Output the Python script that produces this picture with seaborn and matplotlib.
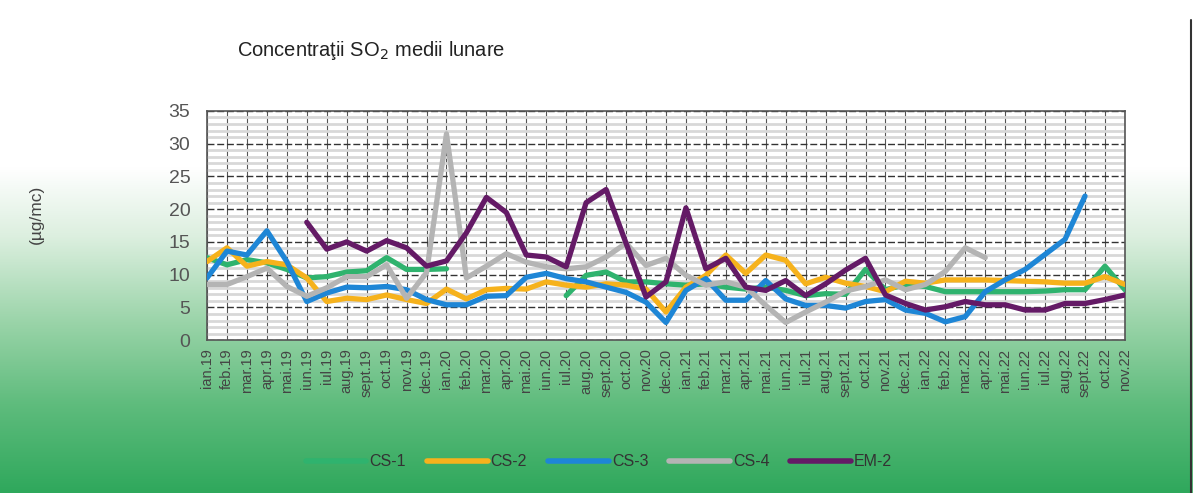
import numpy as np
import pandas as pd
import matplotlib
matplotlib.use('Agg')
import matplotlib.pyplot as plt
from matplotlib.colors import LinearSegmentedColormap
from matplotlib.ticker import MultipleLocator
import seaborn as sns

nan = np.nan

labels = ['ian.19', 'feb.19', 'mar.19', 'apr.19', 'mai.19', 'iun.19', 'iul.19', 'aug.19', 'sept.19', 'oct.19', 'nov.19', 'dec.19',
          'ian.20', 'feb.20', 'mar.20', 'apr.20', 'mai.20', 'iun.20', 'iul.20', 'aug.20', 'sept.20', 'oct.20', 'nov.20', 'dec.20',
          'ian.21', 'feb.21', 'mar.21', 'apr.21', 'mai.21', 'iun.21', 'iul.21', 'aug.21', 'sept.21', 'oct.21', 'nov.21', 'dec.21',
          'ian.22', 'feb.22', 'mar.22', 'apr.22', 'mai.22', 'iun.22', 'iul.22', 'aug.22', 'sept.22', 'oct.22', 'nov.22']

cs1 = [12.6, 11.5, 12.3, 11.8, 10.8, 9.5, 9.7, 10.4, 10.6, 12.6, 10.8, 10.8,
       10.9, nan, nan, nan, nan, nan, 6.8, 9.9, 10.4, 8.9, 8.9, 8.6,
       8.4, 8.6, 8.1, 7.8, 8.1, 7.6, 6.8, 7.1, 7.0, 10.8, 7.7, 8.5,
       8.2, 7.4, 7.4, 7.4, 7.4, 7.4, 7.5, 7.7, 7.7, 11.3, 7.7]
cs2 = [12.0, 14.1, 11.3, 12.0, 11.5, 9.5, 5.9, 6.4, 6.2, 6.9, 6.2, 5.6,
       7.8, 6.3, 7.7, 7.9, 7.8, 8.9, 8.4, 8.1, 8.6, 8.4, 7.8, 4.3,
       8.1, 9.9, 13.0, 10.2, 13.0, 12.2, 8.6, 9.6, 8.7, 8.2, 7.4, 9.0,
       8.7, 9.2, 9.2, 9.2, 9.1, 9.0, 8.9, 8.7, 8.7, 9.7, 8.5]
cs3 = [9.5, 13.6, 13.0, 16.7, 12.0, 5.9, 7.2, 8.1, 8.0, 8.2, 7.7, 6.2,
       5.4, 5.4, 6.7, 6.8, 9.6, 10.2, 9.4, 8.9, 8.1, 7.3, 5.8, 2.7,
       7.6, 9.4, 6.1, 6.1, 9.1, 6.3, 5.3, 5.3, 4.9, 5.9, 6.2, 4.6,
       4.1, 2.8, 3.6, 7.4, 9.2, 10.8, 13.1, 15.4, 22.0, nan, nan]
cs4 = [8.5, 8.5, 9.7, 11.0, 8.2, 6.7, 8.0, 9.7, 9.7, 11.5, 6.4, 10.3,
       31.5, 9.5, 11.3, 13.2, 11.9, 11.2, 10.9, 11.2, 12.7, 14.8, 11.4, 12.5,
       9.9, 8.4, 8.9, 8.1, 5.3, 2.7, 4.3, 5.8, 7.5, 8.2, 9.2, 7.7,
       8.5, 10.5, 14.1, 12.6, nan, nan, nan, nan, nan, nan, nan]
em2 = [nan, nan, nan, nan, nan, 18.0, 13.9, 15.0, 13.6, 15.2, 14.1, 11.3,
       12.1, 16.4, 21.8, 19.5, 13.0, 12.7, 11.2, 21.0, 23.0, 14.8, 6.6, 8.9,
       20.2, 10.9, 12.5, 8.1, 7.6, 9.1, 6.8, 8.6, 10.7, 12.5, 6.9, 5.6,
       4.6, 5.1, 5.9, 5.4, 5.4, 4.6, 4.6, 5.6, 5.6, 6.2, 6.9]

series = {'CS-1': cs1, 'CS-2': cs2, 'CS-3': cs3, 'CS-4': cs4, 'EM-2': em2}
palette = {'CS-1': '#2fb36e', 'CS-2': '#f6b21c', 'CS-3': '#1e86d6',
           'CS-4': '#b4b4b4', 'EM-2': '#641a66'}

# long form, gaps split into separate units so lines break at NaN
rows = []
for name, vals in series.items():
    seg = 0
    prev_nan = True
    for i, v in enumerate(vals):
        if np.isnan(v):
            prev_nan = True
            continue
        if prev_nan:
            seg += 1
        prev_nan = False
        rows.append({'idx': i, 'val': v, 'station': name, 'seg': f'{name}_{seg}'})
df = pd.DataFrame(rows)

sns.set_style('white')
plt.rcParams['font.family'] = ['Liberation Sans', 'DejaVu Sans']

fig = plt.figure(figsize=(11.98, 4.93), dpi=100)

# background gradient (white top -> green bottom)
bg = fig.add_axes([0, 0, 1, 1], zorder=-10)
cmap = LinearSegmentedColormap.from_list('bg', [(0.0, '#ffffff'), (0.34, '#ffffff'), (0.48, '#dcefdf'),
                                                (0.66, '#98d3a7'), (0.82, '#5fbc7d'), (1.0, '#2fa85c')])
grad = np.linspace(0, 1, 256).reshape(-1, 1)
bg.imshow(grad, aspect='auto', cmap=cmap, extent=[0, 1, 1, 0])
bg.plot([0.9945, 0.9945], [0.04, 1.0], color='#333333', lw=1.5)
bg.fill_between([0.9955, 1.0], [0.04, 0.04], [1.0, 1.0], color='white')
bg.set_xlim(0, 1)
bg.set_ylim(1, 0)
bg.axis('off')

ax = fig.add_axes([0.1728, 0.31, 0.7662, 0.465])
ax.set_facecolor('white')

sns.lineplot(data=df, x='idx', y='val', hue='station', units='seg', estimator=None,
             palette=palette, hue_order=list(series.keys()), lw=3.8, ax=ax,
             legend=True, zorder=5)

ax.set_xlim(0, len(labels) - 1)
ax.set_ylim(0, 35)
ax.set_xticks(range(len(labels)))
ax.set_xticklabels(labels, rotation=90, fontsize=10.5, color='#444444')
ax.yaxis.set_major_locator(MultipleLocator(5))
ax.yaxis.set_minor_locator(MultipleLocator(1))
ax.tick_params(axis='y', which='major', labelsize=14, labelcolor='#555555', length=4, color='#444444', pad=8)
ax.tick_params(axis='y', which='minor', length=0)
ax.tick_params(axis='x', length=4, color='#444444', pad=2)
ax.grid(axis='y', which='minor', color='#d8d8d8', lw=2.0, zorder=0)
ax.grid(axis='y', which='major', color='#333333', lw=1.0, ls=(0, (5, 2)), zorder=1)
ax.grid(axis='x', which='major', color='#555555', lw=0.8, zorder=1)
ax.set_axisbelow(True)
for s in ax.spines.values():
    s.set_color('#555555')
    s.set_linewidth(1.2)
ax.set_xlabel('')
ax.set_ylabel('')

handles, leg_labels = ax.get_legend_handles_labels()
ax.get_legend().remove()
for h in handles:
    h.set_linewidth(4)
fig.legend(handles, leg_labels, loc='center', bbox_to_anchor=(0.5, 0.063), ncol=5,
           frameon=False, fontsize=11.5, handlelength=3.8, columnspacing=1.3,
           handletextpad=0.2, labelcolor='#333333')

fig.text(0.198, 0.897, 'Concentraţii SO$_2$ medii lunare', fontsize=14.5, color='#222222',
         ha='left', va='center')
fig.text(0.03, 0.565, '(µg/mc)', rotation=90, fontsize=12.5, color='#444444',
         ha='center', va='center')

fig.savefig('out.png', dpi=100)
